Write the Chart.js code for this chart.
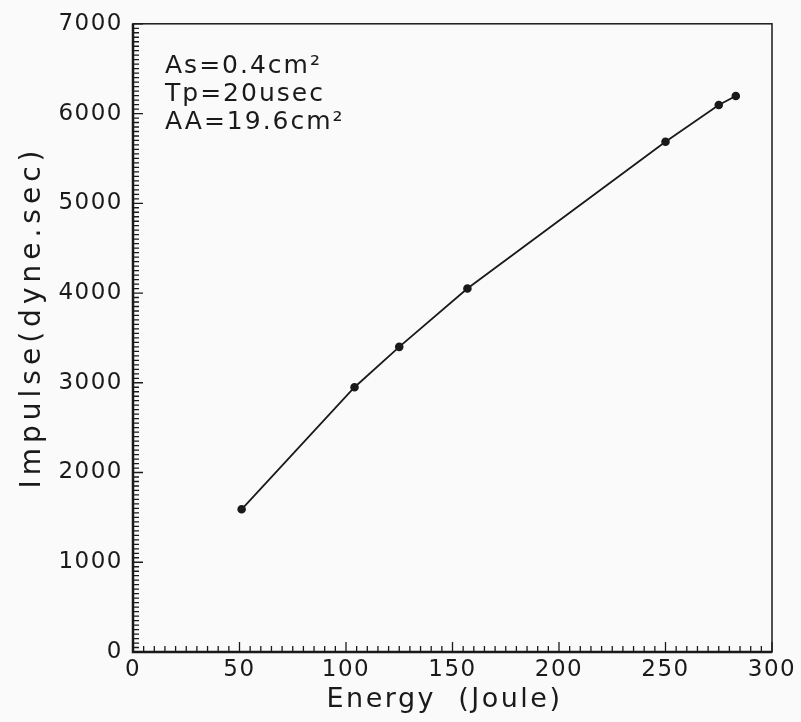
<!DOCTYPE html>
<html>
<head>
<meta charset="utf-8">
<script src="https://cdn.jsdelivr.net/npm/chart.js@4"></script>
<style>
  html, body { margin: 0; padding: 0; background: #fafafa; }
  #wrap { width: 801px; height: 722px; }
</style>
</head>
<body>
<div id="wrap"><canvas id="chart" width="801" height="722"></canvas></div>
<script>
// valores
const energy = [51, 104, 125, 157, 250, 275, 283];
const impulse = [1590, 2950, 3400, 4050, 5685, 6095, 6195];
const xTicks = [0, 50, 100, 150, 200, 250, 300];
const yTicks = [0, 1000, 2000, 3000, 4000, 5000, 6000, 7000];
const notes = ['As=0.4cm\u00B2', 'Tp=20usec', 'AA=19.6cm\u00B2'];
const xTitle = 'Energy  (Joule)';
const yTitle = 'Impulse(dyne.sec)';

const ink = '#1a1a1a';
const fontFam = '"DejaVu Sans", sans-serif';

// espacamento das letras (a fonte original e bem larga)
const spacingPlugin = {
  id: 'spacing',
  beforeLayout(chart) { chart.ctx.letterSpacing = '1.5px'; },
  beforeDraw(chart) { chart.ctx.letterSpacing = '1.5px'; }
};

// moldura, ticks para dentro, titulos e notas
const framePlugin = {
  id: 'frame',
  afterDraw(chart) {
    const ctx = chart.ctx;
    const a = chart.chartArea;
    const xs = chart.scales.x, ys = chart.scales.y;
    ctx.save();
    ctx.strokeStyle = ink;
    ctx.lineWidth = 1.5;
    ctx.strokeRect(a.left, a.top, a.right - a.left, a.bottom - a.top);
    ctx.lineWidth = 2.5;
    ctx.beginPath();
    ctx.moveTo(a.left, a.top); ctx.lineTo(a.left, a.bottom); ctx.lineTo(a.right, a.bottom);
    ctx.stroke();

    ctx.lineWidth = 1.3;
    ctx.beginPath();
    for (let v = 0; v <= 300; v += 5) {
      const px = xs.getPixelForValue(v);
      const len = v % 50 === 0 ? 10 : 6;
      ctx.moveTo(px, a.bottom); ctx.lineTo(px, a.bottom - len);
    }
    for (let v = 0; v <= 7000; v += 50) {
      const py = ys.getPixelForValue(v);
      const len = v % 1000 === 0 ? 10 : 6;
      ctx.moveTo(a.left, py); ctx.lineTo(a.left + len, py);
    }
    ctx.stroke();

    ctx.fillStyle = ink;

    // notas
    ctx.letterSpacing = '2px';
    ctx.font = '25px ' + fontFam;
    ctx.textAlign = 'left';
    ctx.textBaseline = 'middle';
    notes.forEach((t, i) => {
      ctx.fillText(t, a.left + 32, a.top + 43 + i * 28);
    });

    // titulo x
    ctx.letterSpacing = '2.5px';
    ctx.font = '27px ' + fontFam;
    ctx.textAlign = 'center';
    ctx.textBaseline = 'alphabetic';
    ctx.fillText(xTitle, (a.left + a.right) / 2 - 8, 707);

    // titulo y
    ctx.letterSpacing = '5px';
    ctx.font = '28px ' + fontFam;
    ctx.translate(40, 317);
    ctx.rotate(-Math.PI / 2);
    ctx.fillText(yTitle, 0, 0);
    ctx.restore();
  }
};

new Chart(document.getElementById('chart'), {
  type: 'scatter',
  data: {
    datasets: [{
      data: energy.map((e, i) => ({ x: e, y: impulse[i] })),
      showLine: true,
      borderColor: ink,
      borderWidth: 1.8,
      backgroundColor: ink,
      pointRadius: 3.4,
      pointHoverRadius: 3.4
    }]
  },
  options: {
    responsive: false,
    animation: false,
    layout: { padding: { top: 20, right: 29, left: 0, bottom: 0 } },
    plugins: { legend: { display: false }, tooltip: { enabled: false } },
    scales: {
      x: {
        type: 'linear',
        min: 0, max: 300,
        afterBuildTicks: s => { s.ticks = xTicks.map(v => ({ value: v })); },
        afterFit: s => { s.height = 70; },
        grid: { display: false, drawTicks: false },
        border: { display: false },
        ticks: { color: ink, font: { family: fontFam, size: 23 }, padding: 4, maxRotation: 0,
                 callback: v => String(v) }
      },
      y: {
        type: 'linear',
        min: 0, max: 7000,
        afterBuildTicks: s => { s.ticks = yTicks.map(v => ({ value: v })); },
        afterFit: s => { s.width = 133; },
        grid: { display: false, drawTicks: false },
        border: { display: false },
        ticks: { color: ink, font: { family: fontFam, size: 23 }, padding: 10,
                 callback: v => String(v) }
      }
    }
  },
  plugins: [spacingPlugin, framePlugin]
});
</script>
</body>
</html>
